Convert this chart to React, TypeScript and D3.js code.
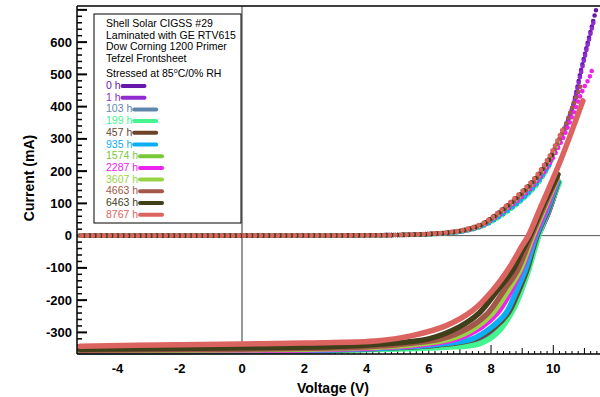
import React from "react";
import * as d3 from "d3";

type Pt = [number, number];

const seriesNames: string[] = ["0 h", "1 h", "103 h", "199 h", "457 h", "935 h", "1574 h", "2287 h", "3607 h", "4663 h", "6463 h", "8767 h"];
const seriesColors: string[] = ["#6619a8", "#8f2bd0", "#5f86a8", "#42f58f", "#6b4428", "#0aaef5", "#78c83a", "#ee22ee", "#96d445", "#a3574a", "#3f3f1a", "#dc6460"];

const headerLines: string[] = ["Shell Solar CIGSS #29", "Laminated with GE RTV615", "Dow Corning 1200 Primer", "Tefzel Frontsheet"];

// Illuminated I-V curves (V, mA)
const light0h: Pt[] = [[-5.2, -360], [0, -358], [3, -355], [6.5, -340], [7.7, -320], [8.25, -285], [8.62, -240], [8.95, -172], [9.18, -107], [9.52, 0], [9.85, 75], [10.15, 160]];
const light1h: Pt[] = [[-5.2, -360], [0, -358], [3, -355], [6.5, -340], [7.7, -320], [8.25, -285], [8.62, -240], [8.95, -172], [9.18, -107], [9.52, 0], [9.85, 75], [10.15, 160]];
const light103h: Pt[] = [[-5.2, -360], [0, -358], [3, -355], [6.5, -340], [7.7, -320], [8.25, -285], [8.62, -240], [8.95, -172], [9.18, -107], [9.52, 0], [9.85, 75], [10.15, 160]];
const light199h: Pt[] = [[-5.2, -361], [0, -359], [3, -356], [6.5, -346], [7.6, -336], [8.15, -306], [8.7, -232], [9.13, -129], [9.45, -27], [9.6, 20], [9.9, 95], [10.2, 165]];
const light457h: Pt[] = [[-5.2, -359], [0, -357], [3, -354], [6.3, -339], [7.5, -320], [8.1, -285], [8.55, -240], [8.87, -175], [9.15, -107], [9.48, 0], [9.82, 78], [10.15, 165]];
const light935h: Pt[] = [[-5.2, -359], [0, -357], [3, -354], [6.2, -338], [7.4, -320], [8.0, -285], [8.48, -240], [8.8, -175], [9.1, -107], [9.45, 0], [9.8, 80], [10.15, 170]];
const light1574h: Pt[] = [[-5.2, -357], [0, -355], [3, -351], [5.6, -339], [6.8, -320], [7.6, -284], [8.12, -240], [8.6, -170], [8.96, -107], [9.37, 0], [9.74, 85], [10.12, 175]];
const light2287h: Pt[] = [[-5.2, -358], [0, -356], [3, -352], [5.8, -338], [6.9, -320], [7.7, -283], [8.2, -240], [8.65, -170], [8.97, -107], [9.4, 0], [9.76, 82], [10.12, 172]];
const light3607h: Pt[] = [[-5.2, -357], [0, -354], [3, -350], [5.5, -338], [6.7, -320], [7.5, -285], [8.05, -240], [8.55, -170], [8.93, -107], [9.35, 0], [9.72, 85], [10.12, 175]];
const light4663h: Pt[] = [[-5.2, -355], [0, -352], [3, -348], [5.0, -338], [6.4, -320], [7.3, -285], [7.9, -240], [8.45, -165], [8.85, -107], [9.3, 0], [9.7, 90], [10.12, 180]];
const light6463h: Pt[] = [[-5.2, -352], [0, -348], [3, -344], [4.5, -336], [6.0, -320], [7.0, -282], [7.62, -240], [8.2, -170], [8.7, -107], [9.0, -48], [9.25, 0], [9.7, 100], [10.15, 190]];
const light8767h: Pt[] = [[-5.2, -343], [-2, -338], [0, -336], [2, -333], [4.4, -326], [5.47, -310], [6.56, -279], [7.4, -233], [8.04, -171], [8.59, -99], [9.0, -31], [9.2, 0], [9.6, 90], [10.2, 225], [10.95, 418]];

// Dark I-V curves (V, mA)
const dark0h: Pt[] = [[-5.2, 0], [0, 0], [4, 1], [5, 2], [6, 5], [6.66, 9], [7.19, 17], [7.7, 32], [8.05, 53], [8.8, 110], [9.44, 172], [9.87, 234], [10.3, 317], [10.62, 399], [10.89, 513], [11.1, 596], [11.37, 699]];
const dark1h: Pt[] = [[-5.2, 0], [0, 0], [4, 1], [5, 2], [6, 5], [6.66, 9], [7.19, 17], [7.7, 32], [8.05, 53], [8.8, 110], [9.44, 172], [9.87, 234], [10.3, 317], [10.62, 399], [10.89, 505], [11.1, 590], [11.3, 665]];
const dark103h: Pt[] = [[-5.2, 0], [0, 0], [4, 1], [5, 2], [6, 4], [6.66, 8], [7.19, 15], [7.7, 28], [8.1, 48], [8.9, 104], [9.5, 163], [9.95, 235]];
const dark199h: Pt[] = [[-5.2, 0], [0, 0], [4, 1], [5, 2], [6, 4], [6.66, 8], [7.19, 15], [7.7, 28], [8.1, 47], [8.9, 102], [9.5, 160], [9.9, 222]];
const dark457h: Pt[] = [[-5.2, 0], [0, 0], [4, 1], [5, 2], [6, 4], [6.66, 8], [7.19, 16], [7.7, 30], [8.05, 50], [8.85, 106], [9.48, 168], [9.9, 228], [10.22, 295]];
const dark935h: Pt[] = [[-5.2, 0], [0, 0], [4, 1], [5, 2], [6, 4], [6.66, 8], [7.19, 15], [7.7, 29], [8.1, 49], [8.9, 104], [9.5, 164], [9.95, 230]];
const dark1574h: Pt[] = [[-5.2, 0], [0, 0], [4, 1], [5, 2], [6, 5], [6.66, 10], [7.19, 18], [7.7, 33], [8.05, 54], [8.8, 112], [9.44, 174], [9.87, 236], [10.3, 320]];
const dark2287h: Pt[] = [[-5.2, 0], [0, 0], [4, 1], [5, 2], [6, 5], [6.66, 9], [7.19, 17], [7.7, 31], [8.05, 51], [8.8, 105], [9.44, 165], [9.87, 222], [10.3, 300], [10.62, 372], [10.95, 452], [11.16, 490], [11.24, 513]];
const dark3607h: Pt[] = [[-5.2, 0], [0, 0], [4, 1], [5, 2], [6, 5], [6.66, 10], [7.19, 18], [7.7, 33], [8.05, 54], [8.8, 112], [9.44, 174], [9.87, 236], [10.2, 300]];
const dark4663h: Pt[] = [[-5.2, 0], [0, 0], [4, 1], [5, 2], [6, 5], [6.66, 10], [7.19, 18], [7.7, 33], [8.05, 54], [8.8, 112], [9.44, 174], [9.87, 238], [10.3, 322], [10.62, 400], [10.92, 475]];
const dark6463h: Pt[] = [[-5.2, 0], [0, 0], [4, 1], [5, 2], [6, 5], [6.66, 10], [7.19, 19], [7.7, 35], [8.05, 57], [8.8, 116], [9.44, 180], [10.0, 255]];
const dark8767h: Pt[] = [[-5.2, 0], [0, 0], [4, 1], [5, 2], [6, 6], [6.66, 11], [7.19, 20], [7.7, 37], [8.05, 59], [8.8, 120], [9.44, 184], [9.87, 246], [10.3, 330]];

const lightCurves: Pt[][] = [light0h, light1h, light103h, light199h, light457h, light935h, light1574h, light2287h, light3607h, light4663h, light6463h, light8767h];
const darkCurves: Pt[][] = [dark0h, dark1h, dark103h, dark199h, dark457h, dark935h, dark1574h, dark2287h, dark3607h, dark4663h, dark6463h, dark8767h];

const xTickLabels: number[] = [-4, -2, 0, 2, 4, 6, 8, 10];
const yTickLabels: number[] = [-300, -200, -100, 0, 100, 200, 300, 400, 500, 600];

const W = 600;
const H = 397;
const L = 77;
const R = 600;
const T = 6;
const B = 354;
const FONT = "Arial, 'Liberation Sans', sans-serif";

export default function App() {
  const x = d3.scaleLinear().domain([-5.3, 11.5]).range([L, R]);
  const y = d3.scaleLinear().domain([-367, 712]).range([B, T]);
  const line = d3
    .line<Pt>()
    .x((d) => x(d[0]))
    .y((d) => y(d[1]))
    .curve(d3.curveCatmullRom.alpha(0.5));

  const yMinor = d3.range(-360, 712, 20);
  const xMinor = d3.range(-5.2, 11.5, 0.2).map((v) => Math.round(v * 10) / 10);

  const legendTop = 89;
  const legendStep = 11.7;

  return (
    <div style={{ position: "absolute", left: 0, top: 0 }}>
      <svg width={W} height={H} style={{ display: "block", background: "#fff" }}>
        <rect x={0} y={0} width={W} height={H} fill="#fff" />
        {/* zero lines */}
        <line x1={L} x2={R} y1={y(0)} y2={y(0)} stroke="#555" strokeWidth={1} />
        <line x1={x(0)} x2={x(0)} y1={T} y2={B} stroke="#333" strokeWidth={1} />

        {/* ticks */}
        {yMinor.map((v) => {
          const major = v % 100 === 0;
          return <line key={"yt" + v} x1={L} x2={L + (major ? 10 : 5)} y1={y(v)} y2={y(v)} stroke="#000" strokeWidth={major ? 2 : 1.5} />;
        })}
        {xMinor.map((v) => {
          const isInt = Math.abs(v - Math.round(v)) < 1e-6;
          const even = isInt && Math.round(v) % 2 === 0;
          const len = even ? 9 : isInt ? 6 : 3;
          return <line key={"xt" + v} x1={x(v)} x2={x(v)} y1={B} y2={B - len} stroke="#000" strokeWidth={1} />;
        })}

        {/* curves */}
        {seriesNames.map((n, i) => (
          <g key={"s" + n}>
            <path d={line(darkCurves[i]) || ""} fill="none" stroke={seriesColors[i]} strokeWidth={4.6} strokeDasharray="0 5.6" strokeDashoffset={(i % 3) * 1.9} strokeLinecap="round" />
            <path d={line(lightCurves[i]) || ""} fill="none" stroke={seriesColors[i]} strokeWidth={5.5} strokeLinecap="round" strokeLinejoin="round" />
          </g>
        ))}

        {/* frame */}
        <line x1={L} x2={R} y1={T} y2={T} stroke="#000" strokeWidth={1.5} />
        <line x1={L} x2={L} y1={T} y2={B} stroke="#000" strokeWidth={1.5} />
        <line x1={L} x2={R} y1={B} y2={B} stroke="#000" strokeWidth={1.5} />

        {/* tick labels */}
        {yTickLabels.map((v) => (
          <text key={"yl" + v} x={72} y={y(v) + 4.5} textAnchor="end" fontFamily={FONT} fontWeight="bold" fontSize={13} fill="#000">
            {v}
          </text>
        ))}
        {xTickLabels.map((v) => (
          <text key={"xl" + v} x={x(v)} y={373} textAnchor="middle" fontFamily={FONT} fontWeight="bold" fontSize={13} fill="#000">
            {v}
          </text>
        ))}

        {/* axis titles */}
        <text x={333} y={393} textAnchor="middle" fontFamily={FONT} fontWeight="bold" fontSize={14} fill="#000">
          Voltage (V)
        </text>
        <text transform={`translate(34,178) rotate(-90)`} textAnchor="middle" fontFamily={FONT} fontWeight="bold" fontSize={14} fill="#000">
          Current (mA)
        </text>

        {/* legend */}
        <rect x={94} y={14} width={147} height={209} fill="#fff" stroke="#000" strokeWidth={1} />
        {headerLines.map((t, i) => (
          <text key={"h" + i} x={106} y={[27, 39, 50, 62][i]} fontFamily={FONT} fontSize={10.5} fill="#000">
            {t}
          </text>
        ))}
        <text x={106} y={77} fontFamily={FONT} fontSize={10.5} fill="#000">
          Stressed at 85
          <tspan fontSize={7} dy={-4}>o</tspan>
          <tspan dy={4}>C/0% RH</tspan>
        </text>
        {seriesNames.map((n, i) => {
          const by = legendTop + i * legendStep;
          const tw = n.length * 5.84 - 3;
          return (
            <g key={"lg" + n}>
              <text x={106} y={by} fontFamily={FONT} fontSize={10.5} fill={seriesColors[i]}>
                {n}
              </text>
              <line x1={106 + tw + 2} x2={106 + tw + 24} y1={by - 3} y2={by - 3} stroke={seriesColors[i]} strokeWidth={4} strokeLinecap="round" />
            </g>
          );
        })}
      </svg>
    </div>
  );
}
